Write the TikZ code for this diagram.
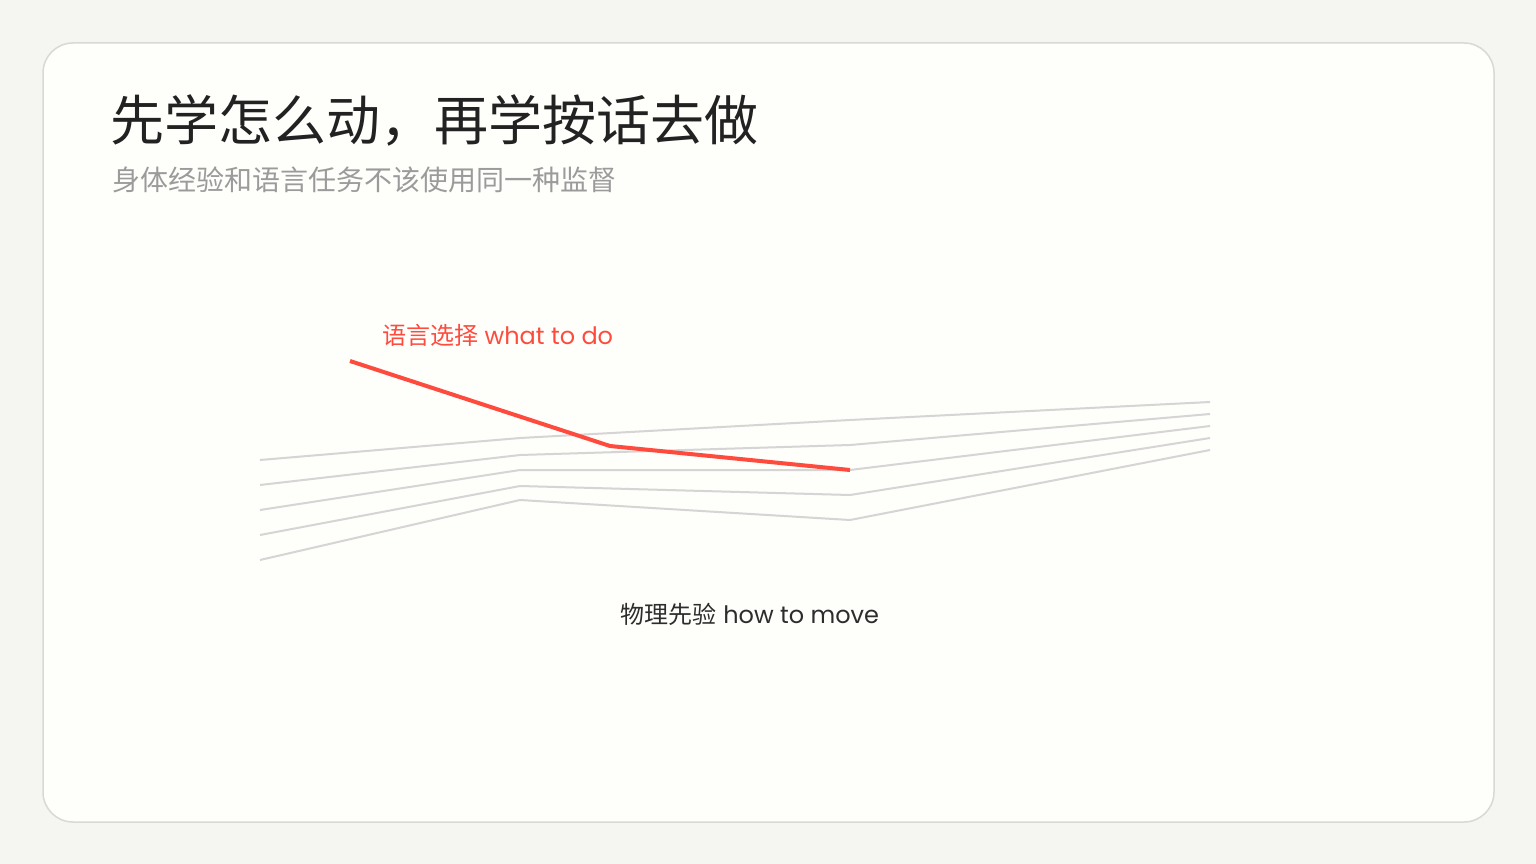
\documentclass[tikz,border=0pt]{standalone}
\usepackage{fontspec}
\setmainfont{Poppins}
\newfontfamily\cjk{Noto Sans CJK SC}
\definecolor{pagebg}{RGB}{245,245,242}
\definecolor{cardbg}{RGB}{254,254,251}
\definecolor{cardline}{RGB}{216,216,214}
\definecolor{strataline}{RGB}{214,212,212}
\definecolor{choicered}{RGB}{255,75,62}
\definecolor{titleink}{RGB}{34,34,34}
\definecolor{subink}{RGB}{155,155,155}
\definecolor{labelink}{RGB}{45,45,45}

\begin{document}
\begin{tikzpicture}[x=1pt,y=-1pt]

%canvas info
\def\wid{1536}
\def\hei{864}
\def\rad{30pt}
\def\xa{260}
\def\xb{520}
\def\xc{850}
\def\xd{1210}
%choice points
\coordinate (L) at (350,361);
\coordinate (K) at (610,446);
\coordinate (E) at (850,470);

%fill
\fill[color=pagebg] (0,0) rectangle (\wid,\hei);
\useasboundingbox (0,0) rectangle (\wid,\hei);
\filldraw[fill=cardbg,draw=cardline,line width=1.5pt,rounded corners=\rad] (43,43) rectangle (1494,822);

%draw strata
\foreach \a/\b/\c/\d in {460/438/420/402,485/455/445/414,510/470/470/426,535/486/495/438,560/500/520/450}{
    \draw[color=strataline,line width=2pt] (\xa,\a) -- (\xb,\b) -- (\xc,\c) -- (\xd,\d);
}
%draw choice
\draw[color=choicered,line width=4pt] (L) -- (K) -- (E);

%texts
\node[anchor=west,inner sep=0,text=titleink,font=\cjk\fontsize{54}{60}\selectfont] (title) at (110,120) {先学怎么动，再学按话去做};
\node[anchor=west,inner sep=0,text=subink,font=\cjk\fontsize{28}{32}\selectfont] (subtitle) at (112,180) {身体经验和语言任务不该使用同一种监督};
\node[anchor=west,inner sep=0,text=choicered,font=\fontsize{24}{28}\selectfont] (lang) at (382,335) {{\cjk 语言选择} what to do};
\node[inner sep=0,text=labelink,font=\fontsize{24}{28}\selectfont] (phys) at (750,614) {{\cjk 物理先验} how to move};

\end{tikzpicture}
\end{document}
